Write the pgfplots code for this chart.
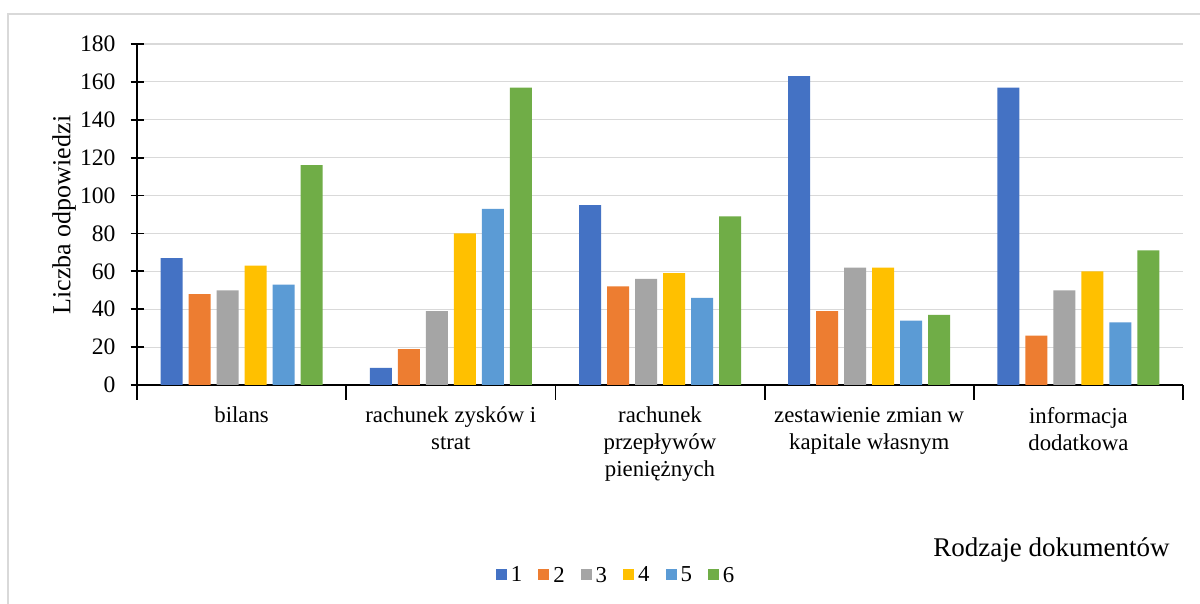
\documentclass[border=0pt]{standalone}
\usepackage{fontspec}
\setmainfont{Liberation Serif}
\newfontfamily\tnr{Liberation Serif}
\usepackage{pgfplots}
\pgfplotsset{compat=1.18}
\definecolor{c1}{HTML}{4472C4}
\definecolor{c2}{HTML}{ED7D31}
\definecolor{c3}{HTML}{A5A5A5}
\definecolor{c4}{HTML}{FFC000}
\definecolor{c5}{HTML}{5B9BD5}
\definecolor{c6}{HTML}{70AD47}
\definecolor{gridc}{HTML}{D9D9D9}
\begin{document}
\begin{tikzpicture}[font=\tnr]
\useasboundingbox (0,0) rectangle (600pt,302pt);
\fill[white] (0,0) rectangle (600pt,302pt);
\draw[gridc, line width=0.6pt] (4pt,-10pt) rectangle (700pt,295pt);
\begin{axis}[
  at={(68.5pt,109.5pt)}, anchor=south west,
  scale only axis, width=523pt, height=170.5pt,
  xmin=-0.5, xmax=4.5, ymin=0, ymax=180,
  ytick={0,20,...,180},
  ymajorgrids, grid style={gridc, line width=0.6pt},
  axis x line*=bottom, axis y line*=left,
  axis line style={black, line width=0.9pt, -},
  tick align=center,
  major tick length=6.5pt,
  ytick style={black, line width=0.9pt},
  xtick={0,1,2,3,4},
  xticklabels={bilans,{rachunek zysków i\\strat},{rachunek\\przepływów\\pieniężnych},{zestawienie zmian w\\kapitale własnym},{informacja\\dodatkowa}},
  major x tick style={draw=none},
  minor xtick={-0.5,0.5,...,4.5},
  minor tick length=7.5pt,
  minor x tick style={black, line width=0.9pt},
  xticklabel style={align=center, font=\tnr\fontsize{11.4}{13.5}\selectfont, yshift=-1pt},
  yticklabel style={font=\tnr\fontsize{11.8}{14}\selectfont, xshift=-4pt},
  /pgf/number format/assume math mode=true,
  ybar=3pt, bar width=11pt,
  legend columns=6,
  legend style={at={(axis description cs:0.459,-0.56)}, anchor=center, draw=none, fill=none,
    font=\tnr\fontsize{11.4}{13}\selectfont,
    /tikz/every even column/.append style={column sep=6pt}},
  legend image code/.code={\fill[#1] (0pt,-2.2pt) rectangle (5.5pt,3.3pt);},
  clip=false,
]
\addplot[fill=c1, draw=none] coordinates {(0,67) (1,9) (2,95) (3,163) (4,157)};
\addplot[fill=c2, draw=none] coordinates {(0,48) (1,19) (2,52) (3,39) (4,26)};
\addplot[fill=c3, draw=none] coordinates {(0,50) (1,39) (2,56) (3,62) (4,50)};
\addplot[fill=c4, draw=none] coordinates {(0,63) (1,80) (2,59) (3,62) (4,60)};
\addplot[fill=c5, draw=none] coordinates {(0,53) (1,93) (2,46) (3,34) (4,33)};
\addplot[fill=c6, draw=none] coordinates {(0,116) (1,157) (2,89) (3,37) (4,71)};
\legend{1,2,3,4,5,6}
\end{axis}
\node[rotate=90, font=\tnr\fontsize{13}{15}\selectfont] at (32pt,194.5pt) {Liczba odpowiedzi};
\node[anchor=base east, font=\tnr\fontsize{13.5}{15}\selectfont, inner sep=0pt] at (585pt,23.5pt) {Rodzaje dokumentów};
\end{tikzpicture}
\end{document}
